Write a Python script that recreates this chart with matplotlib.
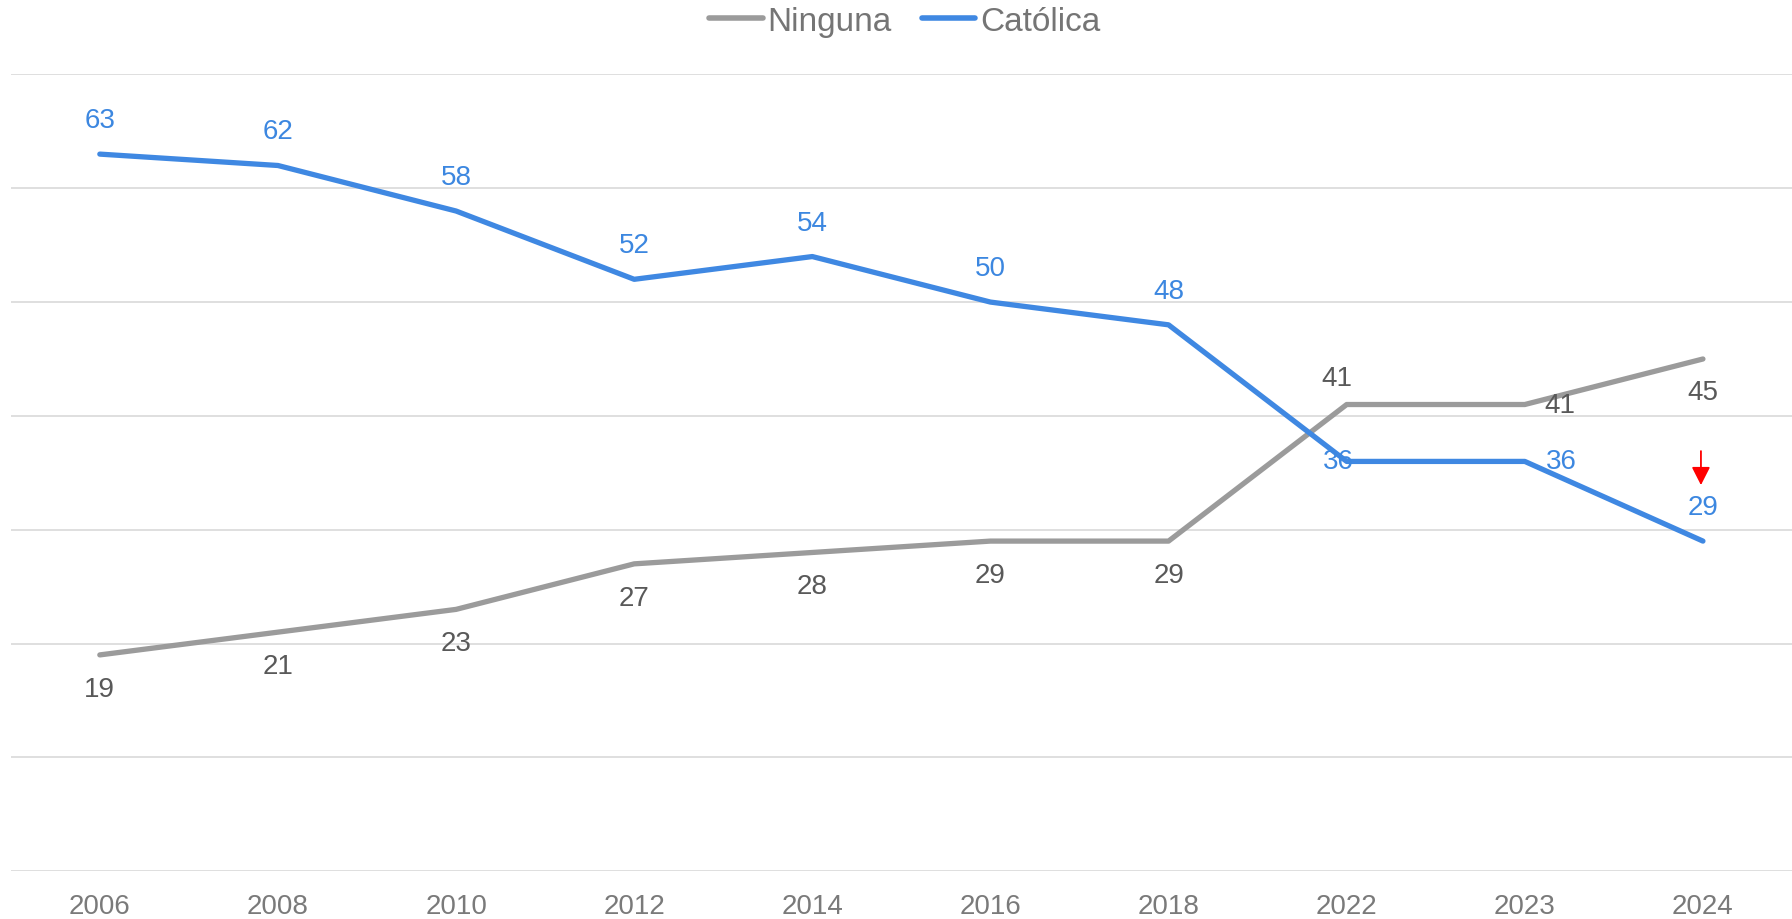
import matplotlib.pyplot as plt
from matplotlib.transforms import offset_copy

plt.rcParams['font.family'] = ['Liberation Sans', 'DejaVu Sans']

years = ['2006', '2008', '2010', '2012', '2014', '2016', '2018', '2022', '2023', '2024']
ninguna = [19, 21, 23, 27, 28, 29, 29, 41, 41, 45]
catolica = [63, 62, 58, 52, 54, 50, 48, 36, 36, 29]

# label offsets in pixels (dx, dy)
off_ninguna = [(0, -34)] * 7 + [(-10, 27), (35, 0), (0, -33)]
off_catolica = [(0, 34)] * 7 + [(-8, 0), (37, 0), (0, 34)]

GRAY = '#9b9b9b'
BLUE = '#3f88e2'

fig = plt.figure(figsize=(17.92, 9.2), dpi=100)
ax = fig.add_axes([0.006, 0.052, 0.994, 0.866])

x = range(len(years))
ax.plot(x, ninguna, color=GRAY, lw=3.8, solid_capstyle='round', label='Ninguna', zorder=3)
ax.plot(x, catolica, color=BLUE, lw=3.8, solid_capstyle='round', label='Católica', zorder=3)

for i, v in enumerate(ninguna):
    ax.annotate(str(v), (i, v), xytext=off_ninguna[i], textcoords='offset pixels',
                ha='center', va='center', fontsize=20, color='#595959', zorder=4)
for i, v in enumerate(catolica):
    ax.annotate(str(v), (i, v), xytext=off_catolica[i], textcoords='offset pixels',
                ha='center', va='center', fontsize=20, color='#3c87e0', zorder=4)

# red arrow above last catolica value
tip = offset_copy(ax.transData, fig=fig, x=-2, y=56, units='dots')
ax.annotate('', xy=(9, catolica[-1]), xycoords=tip, xytext=(0, 34), textcoords='offset pixels',
            arrowprops=dict(arrowstyle='-|>,head_length=0.55,head_width=0.28',
                            mutation_scale=20, color='#ff0000', lw=1.3,
                            shrinkA=0, shrinkB=0))

ax.set_xlim(-0.5, 9.5)
ax.set_ylim(0, 70)
ax.set_yticks(range(0, 71, 10))
ax.set_yticklabels([])
ax.grid(axis='y', color='#d9d9d9', lw=1.2)
ax.set_axisbelow(True)
ax.set_xticks(list(x))
ax.set_xticklabels(years)
ax.tick_params(axis='x', length=0, labelsize=20, labelcolor='#7a7a7a', pad=16)
ax.tick_params(axis='y', length=0)
for s in ax.spines.values():
    s.set_visible(False)

leg = fig.legend(loc='center', bbox_to_anchor=(0.505, 0.976), ncol=2, frameon=False,
                 fontsize=24, handlelength=1.6, handletextpad=0.15, columnspacing=0.9)
for t in leg.get_texts():
    t.set_color('#757575')
for h in leg.get_lines():
    h.set_linewidth(4)

fig.savefig('out.png', dpi=100)
